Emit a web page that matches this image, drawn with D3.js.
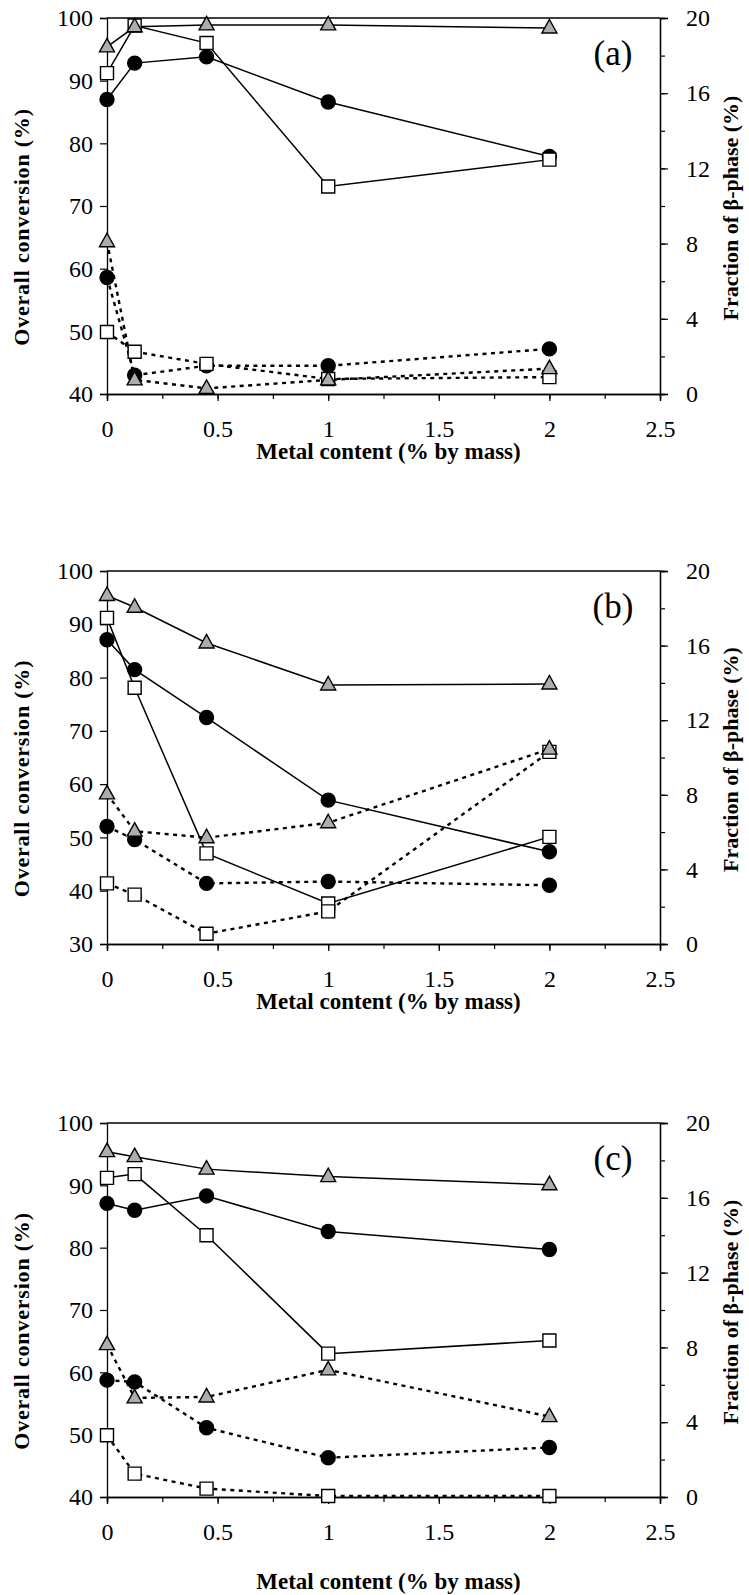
<!DOCTYPE html>
<html>
<head>
<meta charset="utf-8">
<script src="https://cdn.jsdelivr.net/npm/d3@7"></script>
<style>
  body { margin: 0; background: #fff; }
  text { font-family: "Liberation Serif", "Times New Roman", serif; fill: #000; }
</style>
</head>
<body>
<svg id="chart"></svg>
<script>
// x values (metal content, % by mass)
const metal = [0, 0.125, 0.45, 1, 2];
const xTicks = [0, 0.5, 1, 1.5, 2, 2.5];
const betaTicks = [0, 4, 8, 12, 16, 20];
const panelNames = ["(a)", "(b)", "(c)"];

// panel (a)
const aTriConv = [95.4, 98.6, 98.9, 98.9, 98.4];
const aSqConv  = [91.2, 98.8, 96.0, 73.1, 77.4];
const aCirConv = [87.0, 92.8, 93.8, 86.6, 77.9];
const aTriBeta = [8.1, 0.75, 0.3, 0.75, 1.35];
const aSqBeta  = [3.3, 2.25, 1.6, 0.8, 0.9];
const aCirBeta = [6.2, 1.0, 1.5, 1.5, 2.4];

// panel (b)
const bTriConv = [95.4, 93.2, 86.5, 78.6, 78.8];
const bSqConv  = [91.2, 78.1, 47.0, 37.6, 50.1];
const bCirConv = [87.1, 81.5, 72.5, 57.0, 47.3];
const bTriBeta = [8.05, 6.05, 5.7, 6.5, 10.45];
const bSqBeta  = [3.25, 2.65, 0.55, 1.75, 10.3];
const bCirBeta = [6.3, 5.6, 3.25, 3.35, 3.15];

// panel (c)
const cTriConv = [95.4, 94.6, 92.6, 91.4, 90.1];
const cSqConv  = [91.2, 91.8, 82.0, 63.0, 65.1];
const cCirConv = [87.1, 86.0, 88.3, 82.6, 79.7];
const cTriBeta = [8.15, 5.3, 5.35, 6.8, 4.3];
const cSqBeta  = [3.3, 1.25, 0.45, 0.05, 0.05];
const cCirBeta = [6.25, 6.15, 3.7, 2.1, 2.65];

const panels = [
  { name: panelNames[0], yDomain: [40, 100], top: 18, h: 376, titleGap: 65,
    tri: [aTriConv, aTriBeta], sq: [aSqConv, aSqBeta], cir: [aCirConv, aCirBeta] },
  { name: panelNames[1], yDomain: [30, 100], top: 571, h: 373, titleGap: 65,
    tri: [bTriConv, bTriBeta], sq: [bSqConv, bSqBeta], cir: [bCirConv, bCirBeta] },
  { name: panelNames[2], yDomain: [40, 100], top: 1123, h: 374, titleGap: 92,
    tri: [cTriConv, cTriBeta], sq: [cSqConv, cSqBeta], cir: [cCirConv, cCirBeta] }
];

const width = 749, height = 1595;
const left = 107, right = 660;

const svg = d3.select("#chart").attr("width", width).attr("height", height);

// marker shapes
const shapes = {
  cir: "M7,0A7,7 0 1,1 -7,0A7,7 0 1,1 7,0Z",
  sq: "M-6.5,-6.5H6.5V6.5H-6.5Z",
  tri: "M0,-8.5L7.5,5L-7.5,5Z"
};
const fills = { cir: "#000", sq: "#fff", tri: "#adadad" };

panels.forEach(p => {
  const g = svg.append("g");
  const bottom = p.top + p.h;

  const x = d3.scaleLinear().domain([0, 2.5]).range([left, right]);
  const y = d3.scaleLinear().domain(p.yDomain).range([bottom, p.top]);
  const yR = d3.scaleLinear().domain([0, 20]).range([bottom, p.top]);

  // top frame line
  g.append("line")
    .attr("x1", left).attr("x2", right)
    .attr("y1", p.top).attr("y2", p.top)
    .attr("stroke", "#000").attr("stroke-width", 1.3);

  // bottom axis with minor ticks
  const xMinor = g.append("g").attr("transform", `translate(0,${bottom})`)
    .call(d3.axisBottom(x).tickValues(d3.range(0, 2.51, 0.25)).tickSize(5).tickFormat(""));
  const xAxis = g.append("g").attr("transform", `translate(0,${bottom})`)
    .call(d3.axisBottom(x).tickValues(xTicks).tickSize(7).tickPadding(19).tickFormat(d3.format("")));

  // left axis
  const yAxis = g.append("g").attr("transform", `translate(${left},0)`)
    .call(d3.axisLeft(y).ticks(p.yDomain[1] - p.yDomain[0] > 60 ? 8 : 7).tickSize(7).tickPadding(7));

  // right axis
  const yRMinor = g.append("g").attr("transform", `translate(${right},0)`)
    .call(d3.axisRight(yR).tickValues(d3.range(0, 20.1, 2)).tickSize(5).tickFormat(""));
  const yRAxis = g.append("g").attr("transform", `translate(${right},0)`)
    .call(d3.axisRight(yR).tickValues(betaTicks).tickSize(8).tickPadding(18));

  [xMinor, xAxis, yAxis, yRMinor, yRAxis].forEach(a => {
    a.select(".domain").attr("stroke-width", 1.3);
    a.selectAll(".tick line").attr("stroke-width", 1.2);
    a.selectAll("text").style("font-size", "24px").attr("fill", "#000");
  });

  // axis titles
  g.append("text")
    .attr("transform", `translate(29,${p.top + p.h / 2 + 21}) rotate(-90)`)
    .attr("text-anchor", "middle")
    .style("font-size", "22px").style("font-weight", "bold").style("letter-spacing", "0.8px")
    .text("Overall conversion (%)");

  g.append("text")
    .attr("transform", `translate(738,${p.top + p.h / 2 + 2}) rotate(-90)`)
    .attr("text-anchor", "middle")
    .style("font-size", "22px").style("font-weight", "bold")
    .text("Fraction of β-phase (%)");

  g.append("text")
    .attr("x", (left + right) / 2 + 5).attr("y", bottom + p.titleGap)
    .attr("text-anchor", "middle")
    .style("font-size", "23px").style("font-weight", "bold")
    .text("Metal content (% by mass)");

  // panel label
  g.append("text")
    .attr("x", 613).attr("y", p.top + 47)
    .attr("text-anchor", "middle")
    .style("font-size", "35px")
    .text(p.name);

  const order = ["cir", "sq", "tri"];
  const convLine = d3.line().x((d, i) => x(metal[i])).y(d => y(d));
  const betaLine = d3.line().x((d, i) => x(metal[i])).y(d => yR(d));

  // lines
  order.forEach(k => {
    g.append("path").datum(p[k][0])
      .attr("fill", "none").attr("stroke", "#000").attr("stroke-width", 1.5)
      .attr("d", convLine);
    g.append("path").datum(p[k][1])
      .attr("fill", "none").attr("stroke", "#000").attr("stroke-width", 2.4)
      .attr("stroke-dasharray", "4,4.5")
      .attr("d", betaLine);
  });

  // markers
  order.forEach(k => {
    const pts = p[k][0].map((v, i) => [x(metal[i]), y(v)])
      .concat(p[k][1].map((v, i) => [x(metal[i]), yR(v)]));
    g.selectAll(null).data(pts).join("path")
      .attr("transform", d => `translate(${d[0]},${d[1]})`)
      .attr("d", shapes[k])
      .attr("fill", fills[k])
      .attr("stroke", "#000").attr("stroke-width", 1.4);
  });
});
</script>
</body>
</html>
